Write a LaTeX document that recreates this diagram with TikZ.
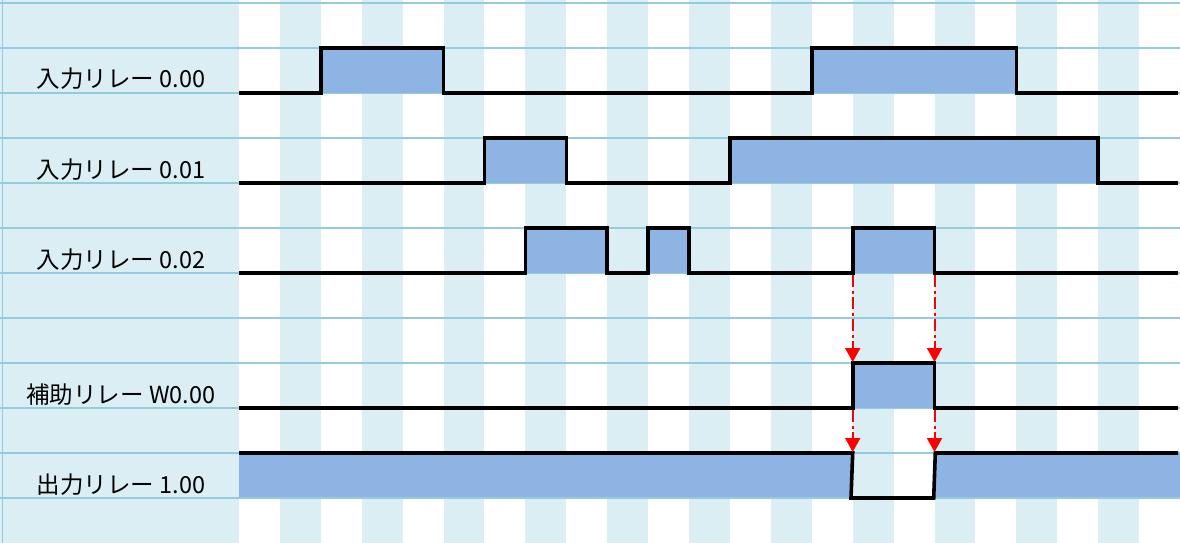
\documentclass[tikz,border=0pt]{standalone}
\usepackage{fontspec}
\setmainfont{Noto Sans CJK JP}
\usetikzlibrary{arrows.meta}
\definecolor{stripe}{HTML}{DAEEF3}
\definecolor{gridc}{HTML}{93CDDD}
\definecolor{pulse}{HTML}{8EB4E3}
\definecolor{arrred}{HTML}{FF0000}
\tikzset{
  lbl/.style={anchor=base, font=\fontsize{23.5}{25}\selectfont, inner sep=0pt},
  wave/.style={line width=3.6pt, black, line join=miter},
  cause/.style={arrred, line width=2pt, dash pattern=on 12pt off 3.5pt on 3pt off 3.5pt,
    -{Triangle[width=15pt,length=14pt]}},
  gridline/.style={gridc, line width=1.1pt},
}
\begin{document}
\begin{tikzpicture}[x=1pt,y=-1pt]
\useasboundingbox (0,0) rectangle (1180,543);
% background
\fill[white] (0,0) rectangle (1180,543);
\fill[stripe] (0,0) rectangle (239,543);
\foreach \k in {1,3,...,21}{
  \fill[stripe] ({239+40.913*\k},0) rectangle ({239+40.913*(\k+1)},543);
}
\foreach \j in {0,...,11}{
  \draw[gridline] (0,{3+45*\j}) -- (1180,{3+45*\j});
}
\draw[gridline] (2.5,0) -- (2.5,543);
% pulse fills
\fill[pulse] (320.8,48) rectangle (443.6,93);
\fill[pulse] (811.8,48) rectangle (1016.3,93);
\fill[pulse] (484.5,138) rectangle (566.3,183);
\fill[pulse] (729.9,138) rectangle (1098.2,183);
\fill[pulse] (525.4,228) rectangle (607.2,273);
\fill[pulse] (648.1,228) rectangle (689.0,273);
\fill[pulse] (852.7,228) rectangle (934.5,273);
\fill[pulse] (852.7,363) rectangle (934.5,408);
\fill[pulse] (239,453) -- (852.7,453) -- (851,498) -- (239,498) -- cycle;
\fill[pulse] (935.3,453) -- (1180,453) -- (1180,498) -- (933.7,498) -- cycle;
\draw[gridline] (239,498) -- (1180,498);
% labels
\node[lbl] (l0) at (121,88) {入力リレー 0.00};
\node[lbl] (l1) at (121,178) {入力リレー 0.01};
\node[lbl] (l2) at (121,268) {入力リレー 0.02};
\node[lbl] (l3) at (121,403) {補助リレー W0.00};
\node[lbl] (l4) at (121,493) {出力リレー 1.00};
% waveforms
\draw[wave] (239,93) -- (320.8,93) -- (320.8,48) -- (443.6,48) -- (443.6,93) -- (811.8,93)
  -- (811.8,48) -- (1016.3,48) -- (1016.3,93) -- (1178,93);
\draw[wave] (239,183) -- (484.5,183) -- (484.5,138) -- (566.3,138) -- (566.3,183) -- (729.9,183)
  -- (729.9,138) -- (1098.2,138) -- (1098.2,183) -- (1178,183);
\draw[wave] (239,273) -- (525.4,273) -- (525.4,228) -- (607.2,228) -- (607.2,273) -- (648.1,273)
  -- (648.1,228) -- (689.0,228) -- (689.0,273) -- (852.7,273)
  -- (852.7,228) -- (934.5,228) -- (934.5,273) -- (1178,273);
\draw[wave] (239,408) -- (852.7,408) -- (852.7,363) -- (934.5,363) -- (934.5,408) -- (1178,408);
\draw[wave] (239,453) -- (852.7,453) -- (851,498) -- (933.7,498) -- (935.3,453) -- (1178,453);
% cause arrows
\coordinate (a1s) at (852.7,275);
\coordinate (a1e) at (852.7,362);
\coordinate (a2s) at (934.5,275);
\coordinate (a2e) at (934.5,362);
\coordinate (b1s) at (852.7,410);
\coordinate (b1e) at (852.7,452);
\coordinate (b2s) at (934.5,410);
\coordinate (b2e) at (934.5,452);
\draw[cause] (a1s) -- (a1e);
\draw[cause] (a2s) -- (a2e);
\draw[cause] (b1s) -- (b1e);
\draw[cause] (b2s) -- (b2e);
\end{tikzpicture}
\end{document}
